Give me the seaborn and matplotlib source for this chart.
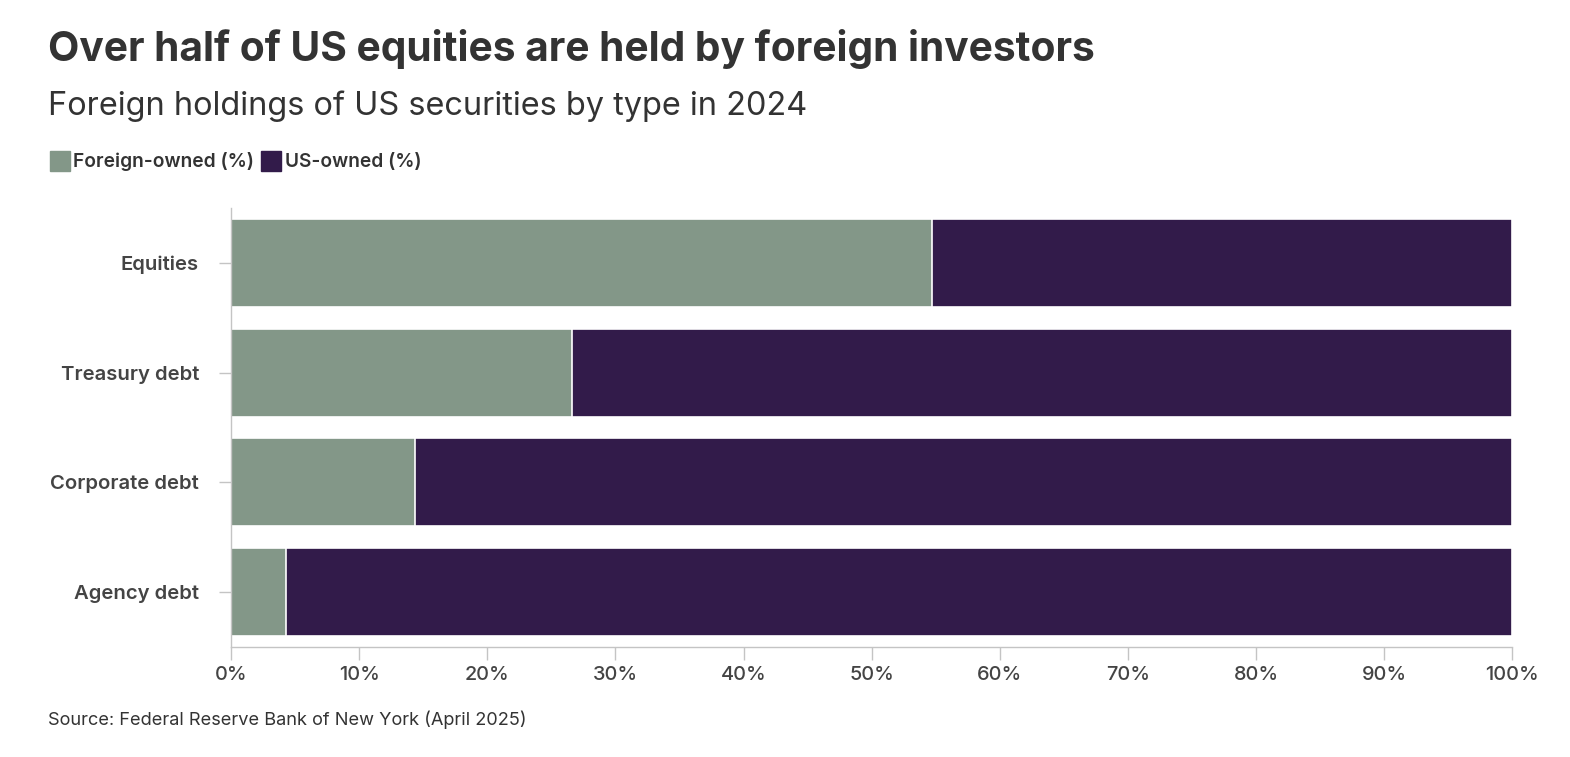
import pandas as pd
import matplotlib.pyplot as plt
import seaborn as sns
from matplotlib.lines import Line2D

# Data
categories = ["Equities", "Treasury debt", "Corporate debt", "Agency debt"]
foreign_pct = [54.7, 26.6, 14.4, 4.3]
total_pct = [100, 100, 100, 100]

green = "#839788"
purple = "#321b4a"
text_dark = "#333333"
grey = "#c4c4c4"

df = pd.DataFrame({"category": categories, "foreign": foreign_pct, "total": total_pct})

sns.set_theme(style="white")
plt.rcParams["font.family"] = ["Inter", "DejaVu Sans"]

fig = plt.figure(figsize=(15.7, 7.57), dpi=100)
ax = fig.add_axes([0.1471, 0.1453, 0.8162, 0.5799])

# stacked bars: full bar in purple, foreign share drawn on top
sns.barplot(data=df, y="category", x="total", color=purple, orient="h",
            width=0.8, edgecolor="white", linewidth=1.2, saturation=1, ax=ax)
sns.barplot(data=df, y="category", x="foreign", color=green, orient="h",
            width=0.8, edgecolor="white", linewidth=1.2, saturation=1, ax=ax)

ax.set_xlim(0, 100)
ax.set_ylim(3.5, -0.5)
ax.set_xticks(range(0, 101, 10))
ax.set_xticklabels([f"{v}%" for v in range(0, 101, 10)])
ax.set_xlabel("")
ax.set_ylabel("")

sns.despine(ax=ax, top=True, right=True)
for side in ["left", "bottom"]:
    ax.spines[side].set_color(grey)
    ax.spines[side].set_linewidth(1)
ax.tick_params(axis="x", bottom=True, length=9, width=1, color=grey, labelsize=14.3,
               labelcolor="#444444", pad=5)
ax.tick_params(axis="y", left=True, length=9, width=1, color=grey, labelsize=14.6,
               labelcolor="#444444", pad=14)
for lbl in ax.get_xticklabels():
    lbl.set_fontweight("medium")
for lbl in ax.get_yticklabels():
    lbl.set_fontweight("semibold")

fig.text(0.0306, 0.935, "Over half of US equities are held by foreign investors",
         fontsize=29.3, fontweight="bold", color=text_dark, va="center")
fig.text(0.0306, 0.860, "Foreign holdings of US securities by type in 2024",
         fontsize=23.4, color=text_dark, va="center")
fig.text(0.0306, 0.049, "Source: Federal Reserve Bank of New York (April 2025)",
         fontsize=13.1, color=text_dark, va="center")

handles = [
    Line2D([0], [0], marker="s", linestyle="none", markersize=15,
           markerfacecolor=green, markeredgecolor=green),
    Line2D([0], [0], marker="s", linestyle="none", markersize=15,
           markerfacecolor=purple, markeredgecolor=purple),
]
fig.legend(handles, ["Foreign-owned (%)", "US-owned (%)"], loc="center left",
           bbox_to_anchor=(0.021, 0.786), ncol=2, frameon=False,
           handletextpad=0.2, columnspacing=0.4, handlelength=1.0,
           prop={"size": 13.8, "weight": "semibold"}, labelcolor=text_dark)

fig.savefig("out.png", dpi=100)
